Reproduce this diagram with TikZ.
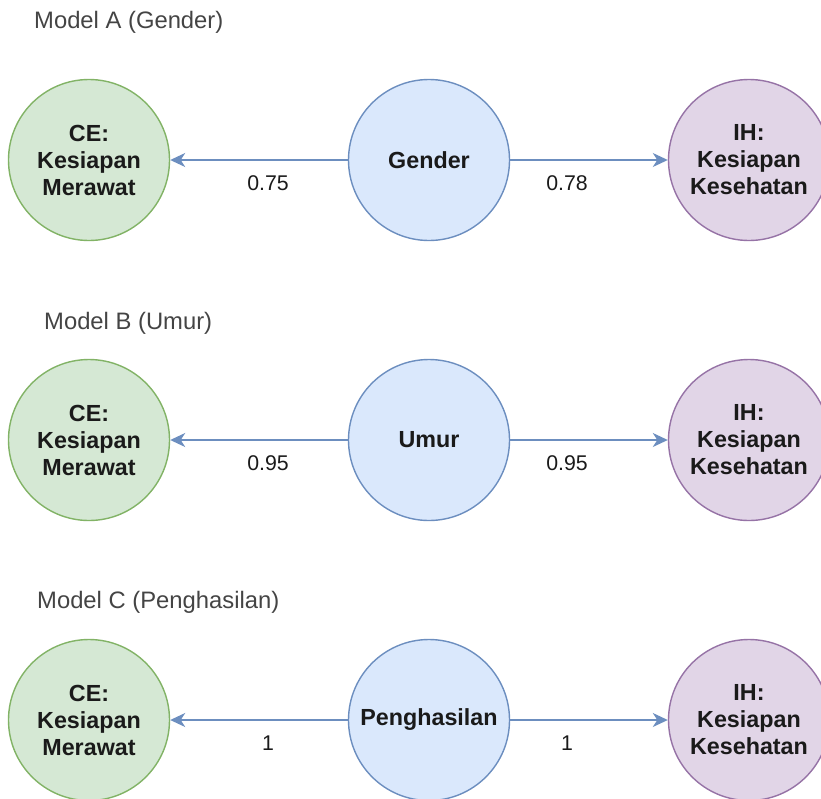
\documentclass[tikz,border=0pt]{standalone}
\usepackage{fontspec}
\setmainfont{Liberation Sans}
\usetikzlibrary{arrows.meta}

\definecolor{ceFill}{HTML}{D5E8D4}
\definecolor{ceLine}{HTML}{82B366}
\definecolor{midFill}{HTML}{DAE8FC}
\definecolor{midLine}{HTML}{6C8EBF}
\definecolor{ihFill}{HTML}{E1D5E7}
\definecolor{ihLine}{HTML}{9673A6}
\definecolor{titleText}{HTML}{444444}
\definecolor{bodyText}{HTML}{1A1A1A}

\tikzset{
  bubble/.style={circle, inner sep=0pt, minimum size=161pt, line width=1.4pt,
    align=center, text=bodyText,
    font=\bfseries\fontsize{23.3}{27}\selectfont},
  cebubble/.style={bubble, fill=ceFill, draw=ceLine},
  midbubble/.style={bubble, fill=midFill, draw=midLine},
  ihbubble/.style={bubble, fill=ihFill, draw=ihLine},
  modeltitle/.style={anchor=base west, inner sep=0pt, text=titleText,
    font=\fontsize{23.8}{28}\selectfont},
  weight/.style={inner sep=0pt, anchor=base, text=bodyText,
    font=\fontsize{21.3}{25}\selectfont},
  link/.style={draw=midLine, line width=1.4pt,
    -{Stealth[length=15pt, width=14pt, inset=4.5pt]}}
}

\begin{document}
\begin{tikzpicture}[x=1pt, y=-1pt]
  \useasboundingbox (0,0) rectangle (821,798);

  % Model A
  \node[modeltitle] (titleA) at (34,28) {Model A (Gender)};
  \node[cebubble]  (ceA)  at (89,160)  {CE:\\Kesiapan\\Merawat};
  \node[midbubble] (midA) at (429,160) {Gender};
  \node[ihbubble]  (ihA)  at (749,160) {IH:\\Kesiapan\\Kesehatan};
  \draw[link] (midA) -- (ceA);
  \draw[link] (midA) -- (ihA);
  \node[weight] (wAl) at (268,190) {0.75};
  \node[weight] (wAr) at (567,190) {0.78};

  % Model B
  \node[modeltitle] (titleB) at (44,329) {Model B (Umur)};
  \node[cebubble]  (ceB)  at (89,440)  {CE:\\Kesiapan\\Merawat};
  \node[midbubble] (midB) at (429,440) {Umur};
  \node[ihbubble]  (ihB)  at (749,440) {IH:\\Kesiapan\\Kesehatan};
  \draw[link] (midB) -- (ceB);
  \draw[link] (midB) -- (ihB);
  \node[weight] (wBl) at (268,470) {0.95};
  \node[weight] (wBr) at (567,470) {0.95};

  % Model C
  \node[modeltitle] (titleC) at (37,608) {Model C (Penghasilan)};
  \node[cebubble]  (ceC)  at (89,720)  {CE:\\Kesiapan\\Merawat};
  \node[midbubble] (midC) at (429,720) {Penghasilan};
  \node[ihbubble]  (ihC)  at (749,720) {IH:\\Kesiapan\\Kesehatan};
  \draw[link] (midC) -- (ceC);
  \draw[link] (midC) -- (ihC);
  \node[weight] (wCl) at (268,750) {1};
  \node[weight] (wCr) at (567,750) {1};
\end{tikzpicture}
\end{document}
